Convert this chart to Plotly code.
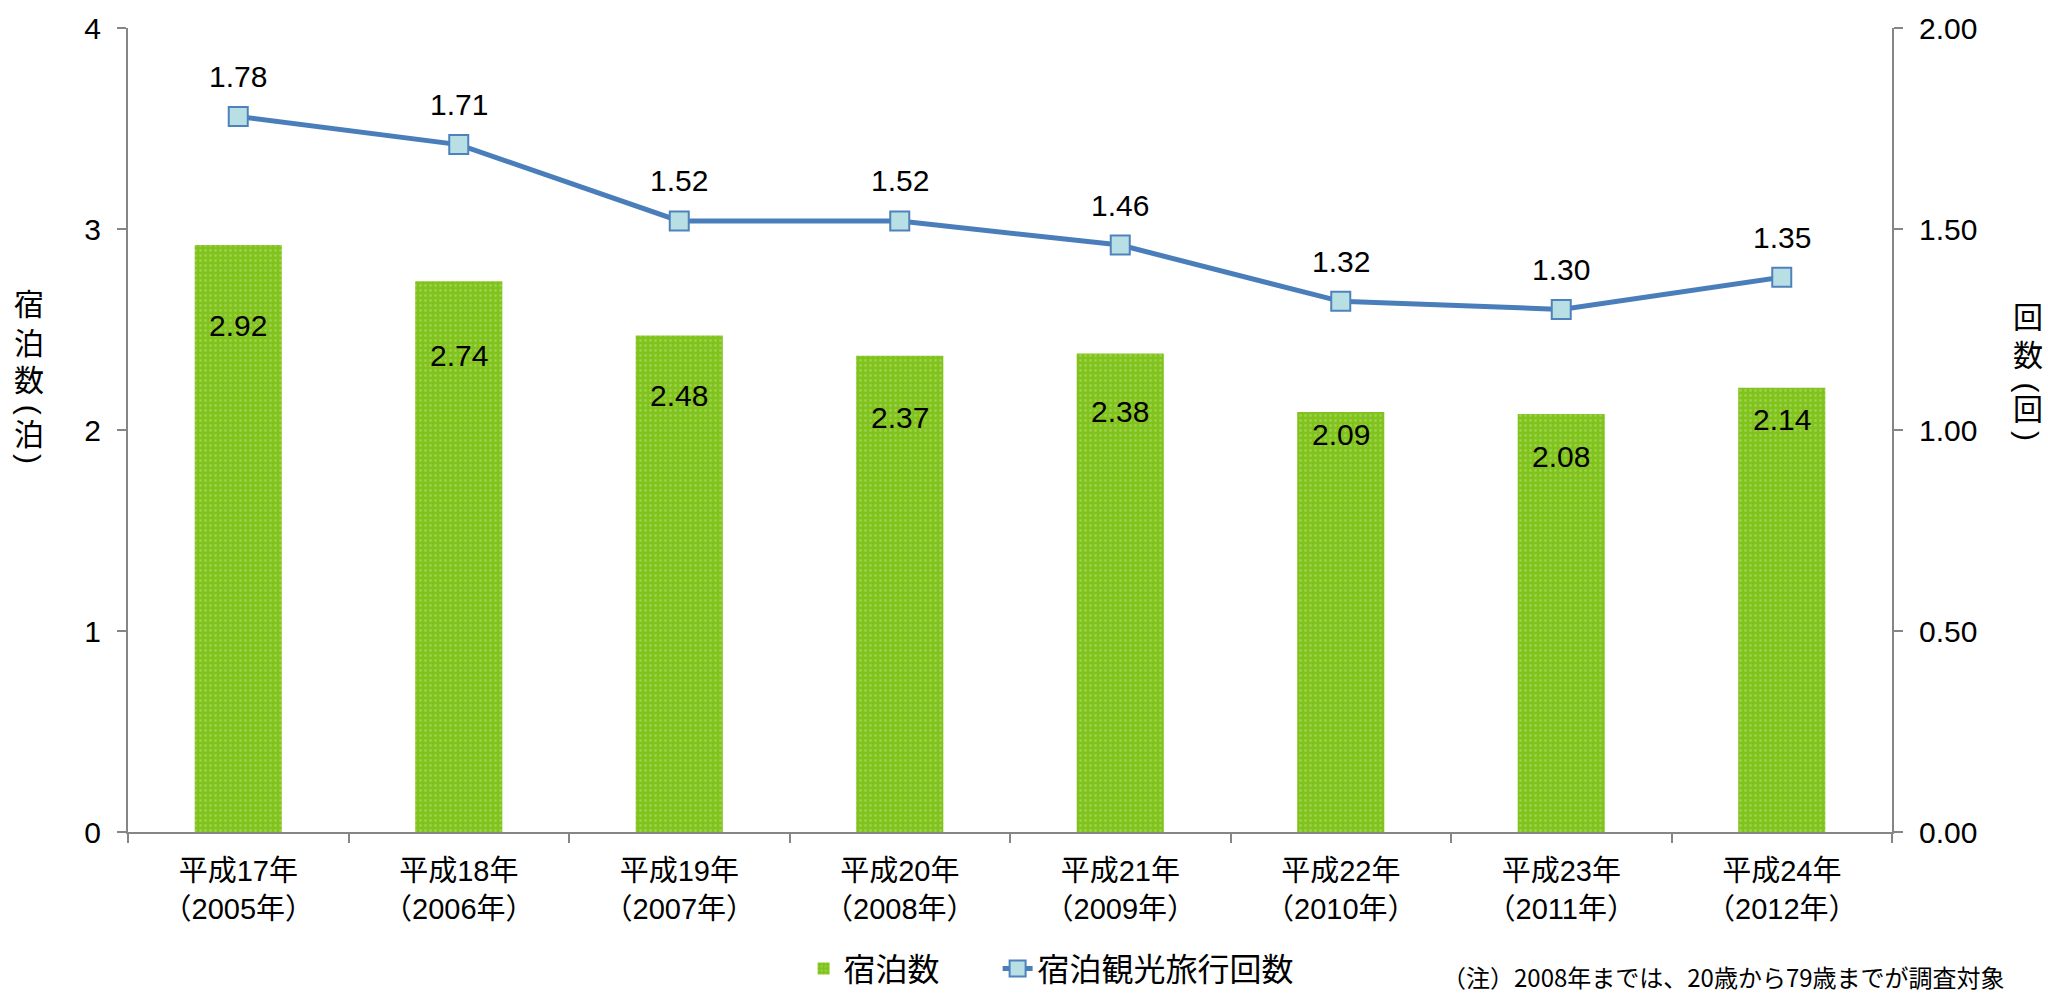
import plotly.graph_objects as go

categories = ["平成17年<br>（2005年）", "平成18年<br>（2006年）", "平成19年<br>（2007年）",
              "平成20年<br>（2008年）", "平成21年<br>（2009年）", "平成22年<br>（2010年）",
              "平成23年<br>（2011年）", "平成24年<br>（2012年）"]
# drawn heights
stays = [2.92, 2.74, 2.47, 2.37, 2.38, 2.09, 2.08, 2.21]
trips = [1.78, 1.71, 1.52, 1.52, 1.46, 1.32, 1.30, 1.38]
# printed labels
stay_labels = ["2.92", "2.74", "2.48", "2.37", "2.38", "2.09", "2.08", "2.14"]
trip_labels = ["1.78", "1.71", "1.52", "1.52", "1.46", "1.32", "1.30", "1.35"]
# vertical placement of bar labels (in left-axis units)
stay_label_y = [2.52, 2.37, 2.17, 2.06, 2.09, 1.98, 1.87, 2.05]

FONT = "Liberation Sans, Arial, Noto Sans CJK JP, sans-serif"
CJK = "Noto Sans CJK JP"
AX = "#868686"

fig = go.Figure()
fig.add_trace(go.Bar(
    x=categories, y=stays, name="宿泊数", legendwidth=149,
    marker=dict(color="#80c31c", line=dict(width=0),
                pattern=dict(shape=".", fgcolor="#b8e07a", size=5, solidity=0.25)),
    yaxis="y",
))
fig.add_trace(go.Scatter(
    x=categories, y=trips, name="宿泊観光旅行回数", mode="lines+markers", legendwidth=270,
    line=dict(color="#4a7ebb", width=5),
    marker=dict(symbol="square", size=19, color="#b8e0e4",
                line=dict(color="#4f81bd", width=2)),
    yaxis="y2",
))

annotations = []
for c, ly, t in zip(categories, stay_label_y, stay_labels):
    annotations.append(dict(x=c, y=ly, xref="x", yref="y", text=t, showarrow=False,
                            font=dict(size=30, color="black", family=FONT)))
for c, v, t in zip(categories, trips, trip_labels):
    annotations.append(dict(x=c, y=v, xref="x", yref="y2", text=t, showarrow=False,
                            yshift=40, font=dict(size=30, color="black", family=FONT)))


def vtitle(x, parts):
    for txt, y, ang in parts:
        annotations.append(dict(x=x, y=y, xref="paper", yref="paper", showarrow=False,
                                text=txt, textangle=ang, xanchor="center", yanchor="middle",
                                borderpad=0,
                                font=dict(size=30, color="black", family=FONT)))


vtitle(-0.0561, [("宿", 0.6555, 0), ("泊", 0.608, 0), ("数", 0.562, 0),
                 ("(", 0.525, 90), ("泊", 0.495, 0), (")", 0.464, 90)])
vtitle(1.0771, [("回", 0.6405, 0), ("数", 0.593, 0), ("(", 0.553, 90),
                ("回", 0.526, 0), (")", 0.4925, 90)])

annotations.append(dict(x=0.744, y=-0.180, xref="paper", yref="paper", showarrow=False,
                        text="（注）2008年までは、20歳から79歳までが調査対象",
                        xanchor="left", yanchor="middle",
                        font=dict(size=24, color="black", family=CJK)))

fig.update_layout(
    width=2048, height=995,
    margin=dict(l=128, r=156, t=28, b=163, autoexpand=False),
    paper_bgcolor="white", plot_bgcolor="white",
    font=dict(family=FONT, size=29, color="black"),
    bargap=0.605,
    showlegend=True,
    legend=dict(orientation="h", x=0.383, y=-0.170, xanchor="left", yanchor="middle",
                font=dict(size=32, family=CJK, color="black"),
                itemwidth=30, tracegroupgap=0, bgcolor="rgba(0,0,0,0)"),
    xaxis=dict(showline=True, linecolor=AX, linewidth=2, ticks="outside", tickcolor=AX,
               ticklen=9, tickwidth=2, tickson="boundaries", showgrid=False,
               tickfont=dict(size=29, family=FONT), automargin=False,
               ticklabelstandoff=12),
    yaxis=dict(range=[0, 4], dtick=1, showline=True, linecolor=AX, linewidth=2,
               ticks="outside", tickcolor=AX, ticklen=9, tickwidth=2, showgrid=False,
               zeroline=False, tickfont=dict(size=30, family=FONT), ticklabelstandoff=10,
               automargin=False),
    yaxis2=dict(range=[0, 2], dtick=0.5, tickformat=".2f", overlaying="y", side="right",
                showline=True, linecolor=AX, linewidth=2, ticks="outside", tickcolor=AX,
                ticklen=9, tickwidth=2, showgrid=False, zeroline=False,
                tickfont=dict(size=30, family=FONT), ticklabelstandoff=10,
                automargin=False),
    annotations=annotations,
)

fig.write_html("out.html")
